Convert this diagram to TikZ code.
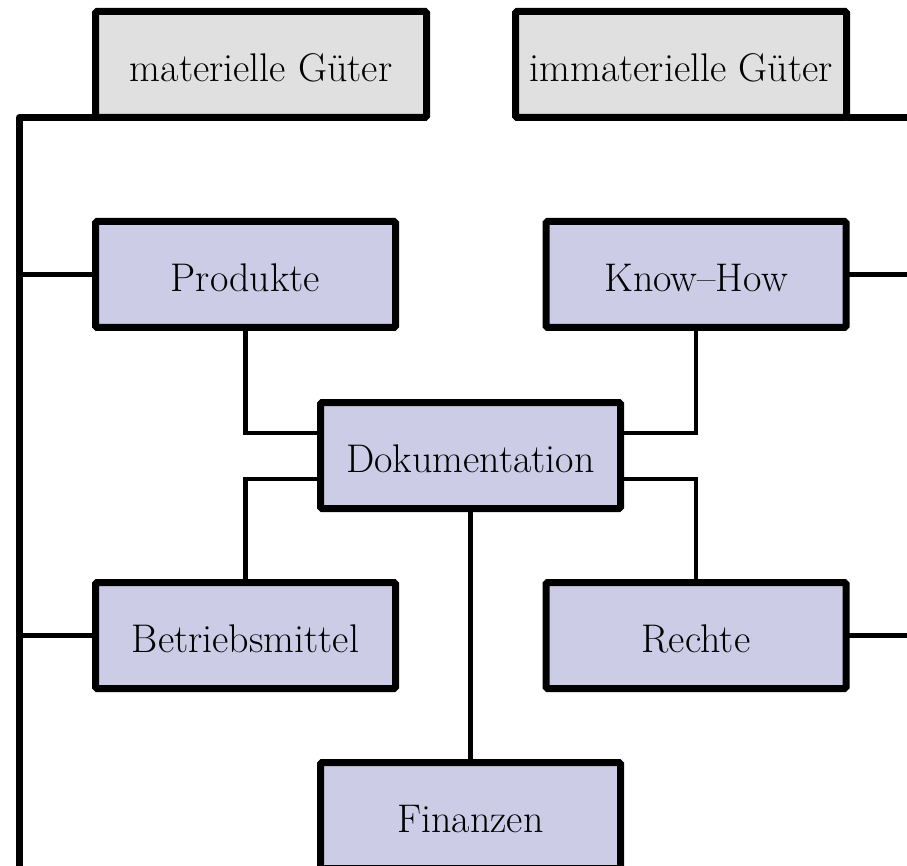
\documentclass[tikz,border=0pt]{standalone}
\usepackage{fontspec}
\definecolor{boxgray}{HTML}{E0E0E0}
\definecolor{boxlav}{HTML}{CCCCE6}
\tikzset{
  box/.style={draw=black, line width=7pt, inner sep=0pt, outer sep=0pt,
    rounded corners=1.5pt, minimum height=106pt,
    font=\fontsize{40}{48}\selectfont,
    text height=41.5pt, text depth=8pt},
  top/.style={box, fill=boxgray, minimum width=331pt},
  item/.style={box, fill=boxlav, minimum width=300pt},
  bus/.style={line width=7pt, line join=round},
  conn/.style={line width=4.5pt, line join=miter}
}
\begin{document}
\begin{tikzpicture}[x=1pt, y=-1pt]
\useasboundingbox (0,0) rectangle (907,866);
\clip (0,0) rectangle (907,866);
\fill[white] (0,0) rectangle (907,866);
% nodes
\node[top]  (mat)   at (261,64.5)    {materielle Güter};
\node[top]  (immat) at (681,64.5)    {immaterielle Güter};
\node[item] (prod)  at (245.5,274.5) {Produkte};
\node[item] (know)  at (696,274.5)   {Know–How};
\node[item] (doku)  at (470.5,455.5) {Dokumentation};
\node[item] (betr)  at (245.5,635.5) {Betriebsmittel};
\node[item] (recht) at (696,635.5)   {Rechte};
\node[item] (fin)   at (470.5,815.5) {Finanzen};
% bus coordinates
\coordinate (bl) at (19.5,117.5);
\coordinate (bb) at (19.5,900);
\coordinate (re) at (915,117.5);
% buses
\draw[bus] (mat.south west) -- (bl) -- (bb);
\draw[bus] (immat.south east) -- (immat.south east -| re);
% side connectors
\draw[conn] (prod.west) -- (prod.west -| bl);
\draw[conn] (betr.west) -- (betr.west -| bl);
\draw[conn] (know.east) -- (know.east -| re);
\draw[conn] (recht.east) -- (recht.east -| re);
% inner connectors
\draw[conn] (prod.south) |- ([yshift=22.5pt]doku.west);
\draw[conn] (know.south) |- ([yshift=22.5pt]doku.east);
\draw[conn] ([yshift=-23.5pt]doku.west) -| (betr.north);
\draw[conn] ([yshift=-23.5pt]doku.east) -| (recht.north);
\draw[conn] (doku.south) -- (fin.north);
\end{tikzpicture}
\end{document}
